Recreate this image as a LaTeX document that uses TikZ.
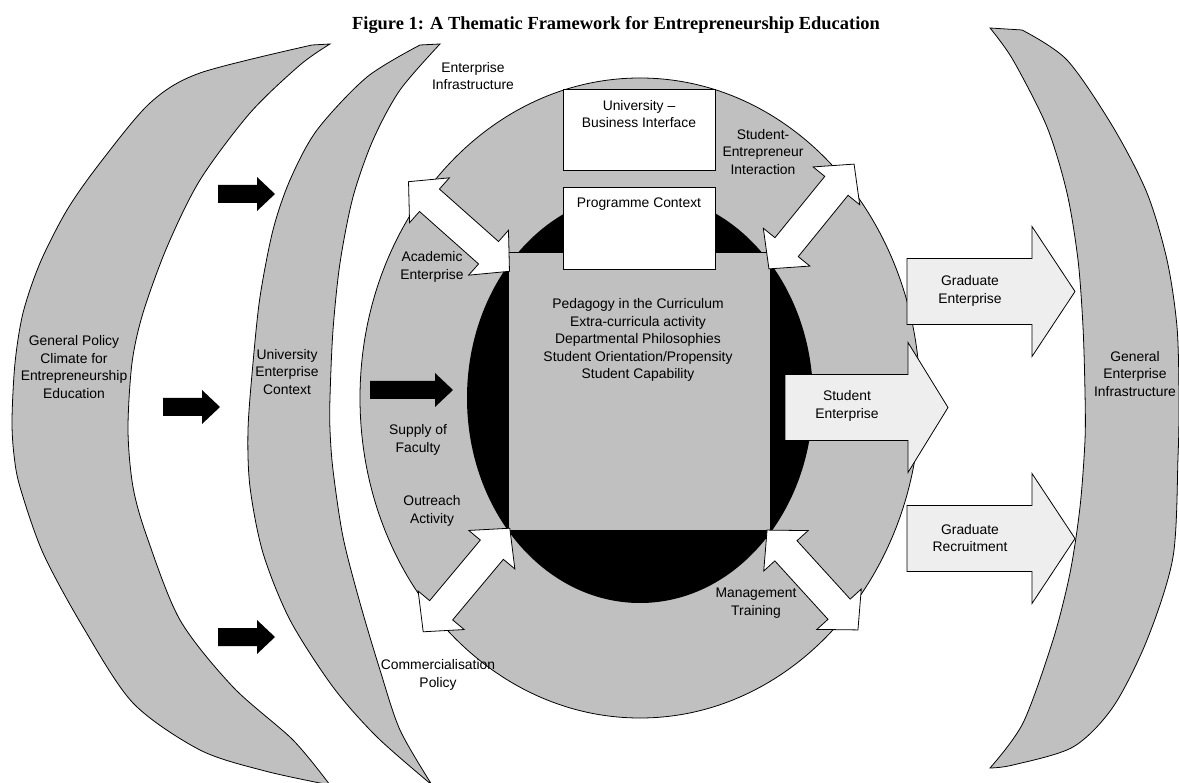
\documentclass[tikz,border=0pt]{standalone}
\usepackage{fontspec}
\setmainfont{Liberation Sans}
\newfontfamily\titlefont{Liberation Serif}

\definecolor{ringgray}{HTML}{C0C0C0}
\definecolor{speckle}{HTML}{EEEEEE}

% block arrows: tail x, tip x, middle y
\newcommand{\feedarrow}[3]{%
  \fill[black] (#1,#3-9) -- (#2-18,#3-9) -- (#2-18,#3-17) -- (#2,#3)
    -- (#2-18,#3+17) -- (#2-18,#3+9) -- (#1,#3+9) -- cycle;}
% tail x, neck x, tip x, middle y
\newcommand{\outarrow}[4]{%
  \filldraw[fill=speckle,draw=black,line width=0.45pt] (#1,#4-33) -- (#2,#4-33) -- (#2,#4-65)
    -- (#3,#4) -- (#2,#4+65) -- (#2,#4+33) -- (#1,#4+33) -- cycle;}

\tikzset{
  band/.style={draw=black,fill=ringgray,line width=0.45pt},
  lbl/.style={align=center,inner sep=0pt,font=\fontsize{7.9}{10}\selectfont},
  panel/.style={draw=black,fill=white,line width=0.45pt},
  twoway/.pic={
    \filldraw[fill=white,draw=black,line width=0.45pt]
      (-67.5,0) -- (-39.5,-30) -- (-39.5,-15) -- (39.5,-15) -- (39.5,-30)
      -- (67.5,0) -- (39.5,30) -- (39.5,15) -- (-39.5,15) -- (-39.5,30) -- cycle;
  }
}

\begin{document}
\begin{tikzpicture}[x=0.02cm,y=-0.02cm]
\useasboundingbox (0,0) rectangle (1179,783);

% outer bands
\filldraw[band] plot[smooth] coordinates {(312,45) (200,73) (150,103) (100,163) (67,210) (40,263) (23,313) (15,363) (12,420) (14,455) (20,487) (43,553) (83,627) (133,703) (200,750) (265,771) (330,785)}
  -- plot[smooth] coordinates {(330,785) (293,740) (233,687) (180,620) (147,537) (133,487) (128,430) (132,363) (143,313) (167,247) (200,180) (250,113) (300,65) (330,44)} -- cycle;
\filldraw[band] plot[smooth] coordinates {(420,45) (367,77) (317,130) (290,180) (273,230) (260,297) (253,363) (248,430) (250,487) (263,553) (290,620) (333,687) (377,737) (432,785)}
  -- plot[smooth] coordinates {(432,785) (400,730) (380,670) (360,603) (343,537) (333,470) (330,430) (330,397) (333,330) (340,263) (353,197) (373,140) (400,90) (440,44)} -- cycle;
\filldraw[band] plot[smooth] coordinates {(990,28) (1013,60) (1047,127) (1067,193) (1078,260) (1083,327) (1085,393) (1085,440) (1080,507) (1070,573) (1053,640) (1023,723) (990,768)}
  -- plot[smooth] coordinates {(990,768) (1013,765) (1073,747) (1113,707) (1147,640) (1173,557) (1178,457) (1179,400) (1177,327) (1167,260) (1147,193) (1113,127) (1067,60) (1022,30)} -- cycle;

% rings
\filldraw[band] (640,398) ellipse [x radius=280,y radius=320];
\fill[black] (640,398) ellipse [x radius=173,y radius=205];
\filldraw[band] (508,252) rectangle (770,530);
\filldraw[panel] (563,89) rectangle (715,170);
\filldraw[panel] (563,187) rectangle (715,269);

% two-way links
\pic[rotate=-41.6] at (459,226.5) {twoway};
\pic[rotate=50.9] at (811.5,216.5) {twoway};
\pic[rotate=50.1] at (466.5,580) {twoway};
\pic[rotate=-47.7] at (812.5,580) {twoway};

% flows
\feedarrow{218}{275}{194}
\feedarrow{163}{220}{407}
\feedarrow{218}{275}{637}
\feedarrow{370}{453}{390}
\outarrow{907}{1032}{1075}{291.5}
\outarrow{785}{908}{948}{407.5}
\outarrow{907}{1032}{1075}{538.5}

% texts
\node[font=\titlefont\bfseries\fontsize{10.5}{12}\selectfont,inner sep=0pt] (title) at (616,25) {Figure 1: A Thematic Framework for Entrepreneurship Education};
\node[lbl] (policy) at (74,367) {General Policy\\Climate for\\Entrepreneurship\\Education};
\node[lbl] (uni) at (287,372) {University\\Enterprise\\Context};
\node[lbl] (infra) at (473,76) {Enterprise\\Infrastructure};
\node[lbl] (ubi) at (639,114) {University --\\Business Interface};
\node[lbl] (prog) at (639,204) {Programme Context};
\node[lbl] (core) at (638,340) {Pedagogy in the Curriculum\\Extra-curricula activity\\Departmental Philosophies\\Student Orientation/Propensity\\Student Capability};
\node[lbl] (sei) at (763,152) {Student-\\Entrepreneur\\Interaction};
\node[lbl] (acad) at (432,267) {Academic\\Enterprise};
\node[lbl] (faculty) at (418,440) {Supply of\\Faculty};
\node[lbl] (outreach) at (432,511) {Outreach\\Activity};
\node[lbl] (comm) at (438,675) {Commercialisation\\Policy};
\node[lbl] (mgmt) at (756,603) {Management\\Training};
\node[lbl] (grad) at (970,291) {Graduate\\Enterprise};
\node[lbl] (stud) at (847,406) {Student\\Enterprise};
\node[lbl] (recruit) at (970,538) {Graduate\\Recruitment};
\node[lbl] (gei) at (1135,374) {General\\Enterprise\\Infrastructure};
\end{tikzpicture}
\end{document}
